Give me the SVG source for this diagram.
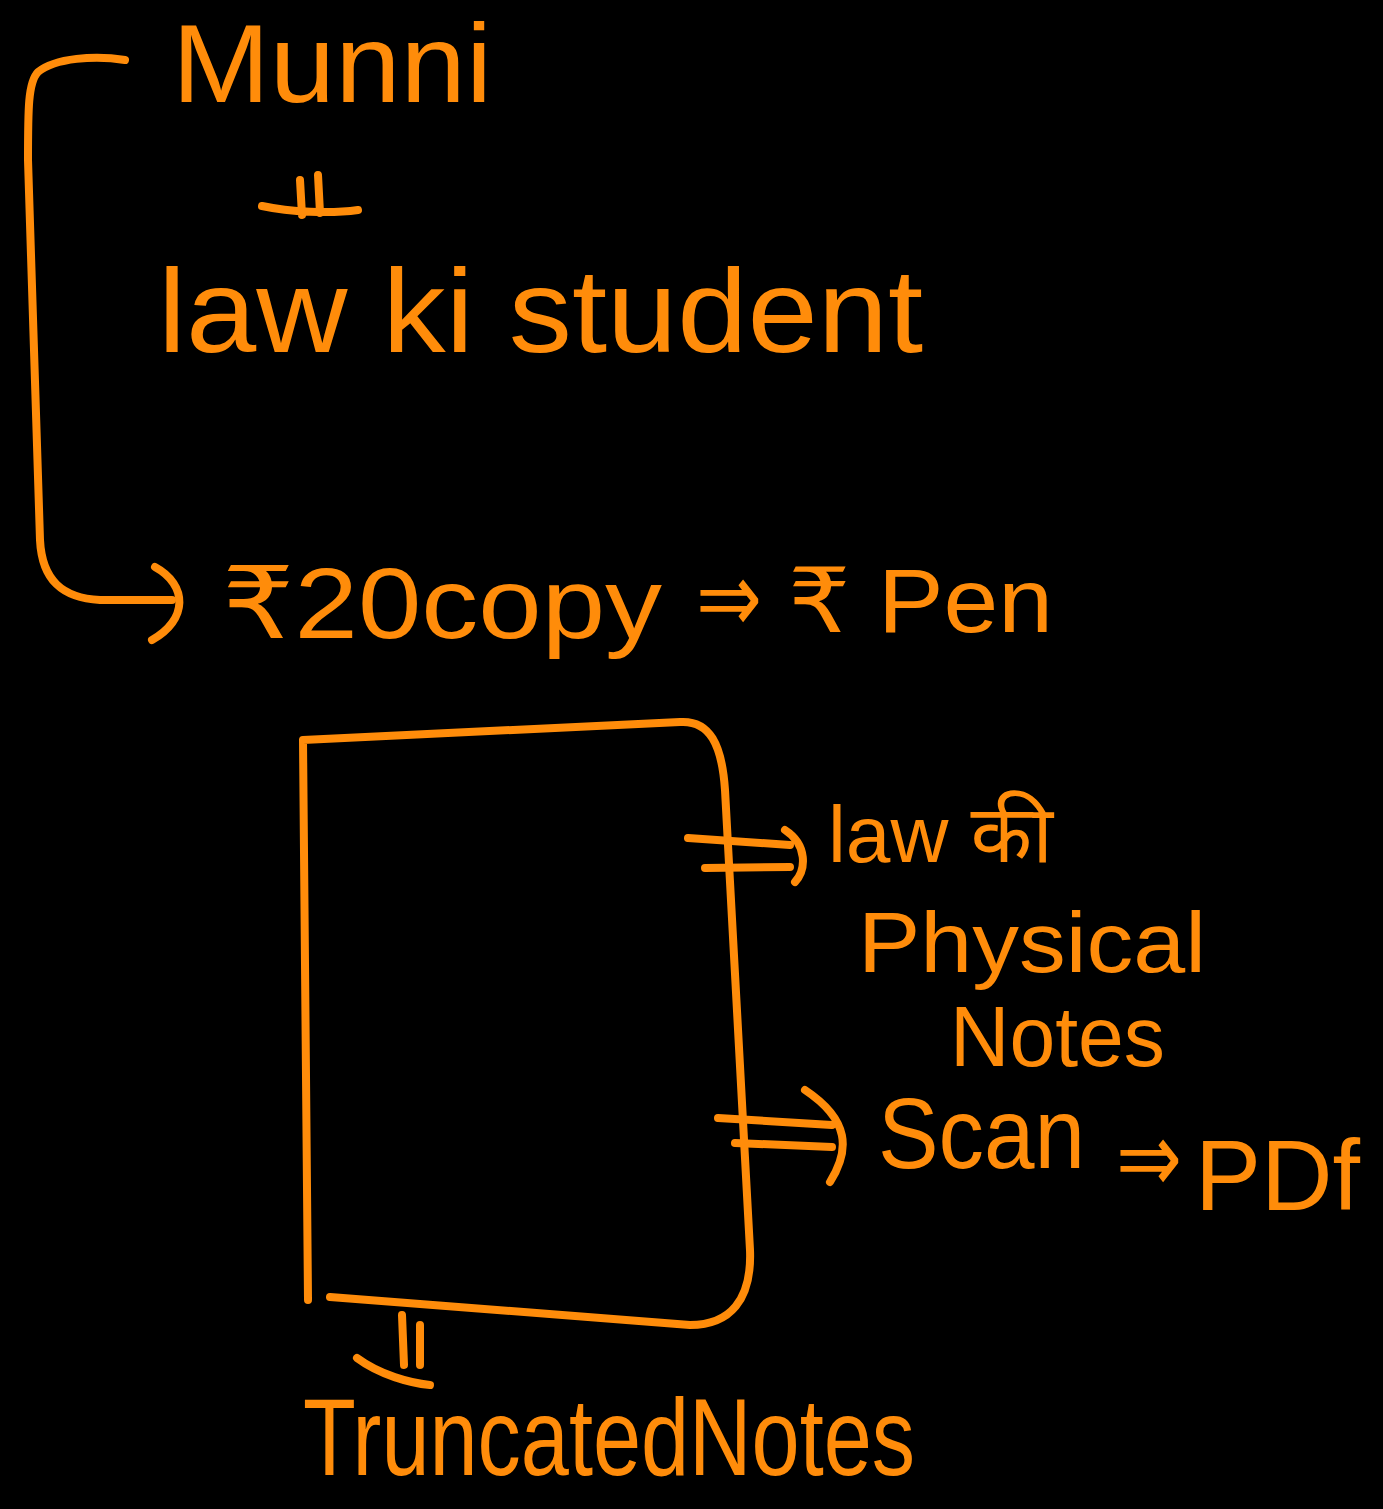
<svg xmlns="http://www.w3.org/2000/svg" width="1383" height="1509" viewBox="0 0 1383 1509">
<style>
.t{fill:#ff8c0a;font-family:"Liberation Sans","DejaVu Sans","Noto Sans",sans-serif;}
.c{fill:none;stroke:#ff8c0a;stroke-width:8;stroke-linecap:round;stroke-linejoin:round;}
</style>
<rect width="1383" height="1509" fill="#000"/>
<g id="connectors">
<path class="c" d="M125,60 C95,55 55,58 38,72 C28,82 28,110 28,160 L40,540 C42,580 62,598 100,600 L172,600"/>
<path class="c" d="M155,567 C188,585 188,620 152,640"/>
<path class="c" d="M300,180 L302,215 M318,175 L320,213 M262,206 C290,212 330,214 358,210"/>
<path class="c" d="M688,838 L790,845 M705,868 L790,867 M785,830 C808,845 806,870 795,882"/>
<path class="c" d="M718,1118 L832,1125 M735,1143 L832,1147 M805,1090 C850,1120 850,1150 830,1182"/>
<path class="c" d="M402,1315 L404,1365 M420,1325 L420,1365 M357,1358 C380,1375 410,1383 430,1385"/>
</g>
<g id="box">
<path class="c" d="M303,740 L680,722 C710,720 722,745 725,790 L750,1250 C752,1300 730,1325 690,1325 L330,1297 M303,740 L308,1300"/>
</g>
<g id="munni"><text class="t" x="172" y="102" font-size="112" textLength="320" lengthAdjust="spacingAndGlyphs">Munni</text></g>
<g id="student"><text class="t" x="158" y="352" font-size="118" textLength="765" lengthAdjust="spacingAndGlyphs">law ki student</text></g>
<g id="copy"><text class="t" x="222" y="638" font-size="100" textLength="440" lengthAdjust="spacingAndGlyphs">₹20copy</text>
<text class="t" x="696" y="632" font-size="100" textLength="66" lengthAdjust="spacingAndGlyphs">⇒</text>
<text class="t" x="788" y="632" font-size="90" textLength="265" lengthAdjust="spacingAndGlyphs">₹ Pen</text></g>
<g id="physical"><text class="t" x="828" y="862" font-size="80" textLength="225" lengthAdjust="spacingAndGlyphs">law की</text>
<text class="t" x="858" y="972" font-size="86" textLength="348" lengthAdjust="spacingAndGlyphs">Physical</text>
<text class="t" x="950" y="1066" font-size="86" textLength="215" lengthAdjust="spacingAndGlyphs">Notes</text></g>
<g id="scan"><text class="t" x="878" y="1168" font-size="100" textLength="207" lengthAdjust="spacingAndGlyphs">Scan</text>
<text class="t" x="1116" y="1192" font-size="100" textLength="66" lengthAdjust="spacingAndGlyphs">⇒</text>
<text class="t" x="1195" y="1210" font-size="100" textLength="165" lengthAdjust="spacingAndGlyphs">PDf</text></g>
<g id="truncated"><text class="t" x="303" y="1475" font-size="110" textLength="612" lengthAdjust="spacingAndGlyphs">TruncatedNotes</text></g>
</svg>
